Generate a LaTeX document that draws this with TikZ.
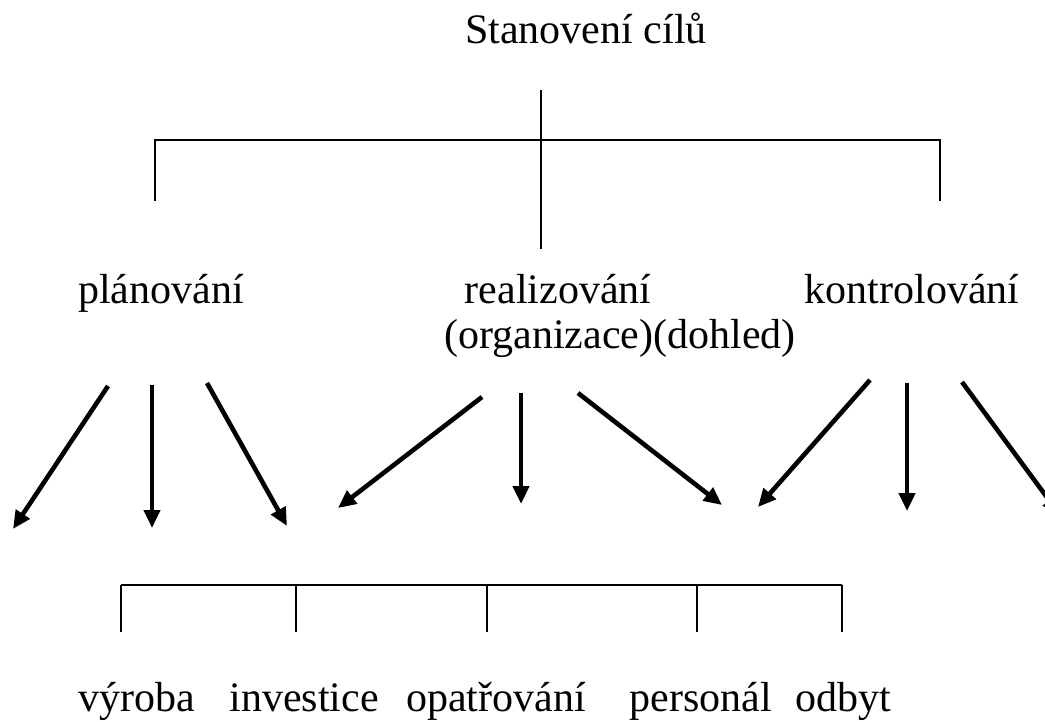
\documentclass[tikz,border=0pt]{standalone}
\usepackage{fontspec}
\setmainfont{Liberation Serif}
\usetikzlibrary{arrows.meta}

\begin{document}
\begin{tikzpicture}[
    x=1pt, y=-1pt,
    font=\fontsize{42}{46}\selectfont,
    term/.style={anchor=base, inner sep=0pt},
    tree/.style={line width=2.2pt},
    fork/.style={line width=4.6pt, -{Triangle[length=18pt, width=16pt]}}
]
\useasboundingbox (0,0) rectangle (1045,721);
\clip (0,0) rectangle (1045,721);

% ── Texts ─────────────────────────────────────────────────
\node[term] (goal) at (586,43)  {Stanovení cílů};
\node[term] (plan) at (161,303) {plánování};
\node[term] (real) at (558,303) {realizování};
\node[term] (org)  at (620,348) {(organizace)(dohled)};
\node[term] (ctrl) at (912,303) {kontrolování};

\foreach \name/\x/\txt in {vyr/137/výroba, inv/304/investice, opa/496/opatřování,
                           per/701/personál, odb/843/odbyt}
    \node[term] (\name) at (\x,711) {\txt};

% ── Upper fork ────────────────────────────────────────────
\coordinate (stemtop) at (541,90);
\coordinate (stembot) at (541,249);
\coordinate (hub)     at (541,140);
\coordinate (lft)     at (155,201);
\coordinate (rgt)     at (940,201);
\draw[tree] (stemtop) -- (stembot);
\draw[tree] (lft) |- (hub) -| (rgt);

% ── Arrows ────────────────────────────────────────────────
\foreach \i/\sx/\sy/\ex/\ey in {1/108/386/13/529, 2/152/385/152/528, 3/207/383/287/526,
                                4/482/397/338/508, 5/521/393/521/504, 6/578/393/722/505,
                                7/870/380/758/507, 8/907/383/907/511, 9/962/382/1060/515}
{
    \coordinate (s\i) at (\sx,\sy);
    \coordinate (e\i) at (\ex,\ey);
    \draw[fork] (s\i) -- (e\i);
}

% ── Lower bracket ─────────────────────────────────────────
\coordinate (bar) at (0,585);
\foreach \n/\x in {1/121, 2/296, 3/487, 4/697, 5/842}
    \coordinate (t\n) at (\x,632);
\draw[tree] (t1 |- bar) -- (t5 |- bar);
\foreach \n in {1,...,5}
    \draw[tree] (t\n) -- (t\n |- bar);

\end{tikzpicture}
\end{document}
